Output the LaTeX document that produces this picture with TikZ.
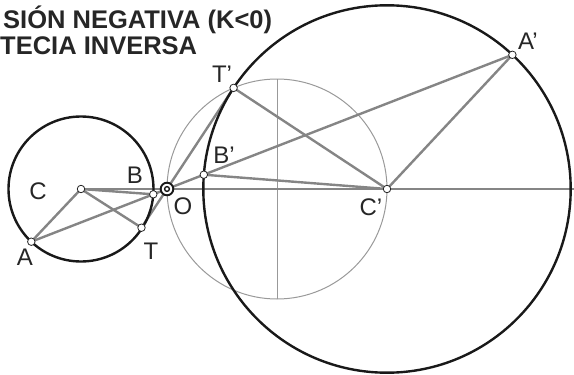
\documentclass[tikz,border=0pt]{standalone}
\usepackage{fontspec}
\setmainfont{Liberation Sans}
\usepackage{tikz}
\usetikzlibrary{calc}

\begin{document}
\begin{tikzpicture}[
    x=1pt, y=-1pt,
    circ/.style={draw=black!90, line width=2.4pt},
    aux/.style={draw=black!40, line width=1pt},
    cons/.style={draw=black!48, line width=2.4pt},
    pt/.style={circle, draw=black!85, fill=white, line width=0.8pt, inner sep=0pt, minimum size=7.5pt},
    lbl/.style={font=\fontsize{24}{26}\selectfont, text=black!85, inner sep=0pt},
    ttl/.style={font=\fontsize{25.5}{27}\selectfont\bfseries, text=black!85, inner sep=0pt, anchor=base west}
]
    \useasboundingbox (0,0) rectangle (574,375);

    % points
    \coordinate (C) at (81,189);
    \coordinate (O) at (167,189);
    \coordinate (Cp) at (387,189);
    \coordinate (M) at (277,189);
    \coordinate (Mt) at (277,79);
    \coordinate (Mb) at (277,299);
    \coordinate (E) at (574,189);
    \coordinate (A) at (31.3,241.7);
    \coordinate (B) at (153.3,194.3);
    \coordinate (T) at (141.5,227.7);
    \coordinate (Ap) at (512.4,54.8);
    \coordinate (Bp) at (203.8,174.7);
    \coordinate (Tp) at (233.6,87.9);

    % title
    \node[ttl] (t1) at (3,28) {SIÓN NEGATIVA (K<0)};
    \node[ttl] (t2) at (0,54) {TECIA INVERSA};

    % auxiliary circle on O-C'
    \draw[aux] (M) circle[radius=110];
    \draw[aux] (Mt) -- (Mb);
    \draw[cons, line width=2pt] (C) -- (E);

    % rays through O
    \draw[cons] (A) -- (Ap);
    \draw[cons] (T) -- (Tp);
    \draw[cons] (C) -- (A);
    \draw[cons] (C) -- (B);
    \draw[cons] (C) -- (T);
    \draw[cons] (Cp) -- (Ap);
    \draw[cons] (Cp) -- (Bp);
    \draw[cons] (Cp) -- (Tp);

    % circles
    \draw[circ] (C) circle[radius=72.5];
    \draw[circ] (Cp) circle[radius=183.7];

    % centre of inversion
    \draw[black!90, line width=1.9pt, fill=white] (O) circle[radius=6.3];
    \draw[black!90, line width=1.4pt, fill=white] (O) circle[radius=2.4];

    \foreach \p in {C,A,B,T,Cp,Ap,Bp,Tp}
        \node[pt] (p\p) at (\p) {};

    % labels
    \node[lbl] (lC) at (38,191) {C};
    \node[lbl] (lB) at (135,175) {B};
    \node[lbl] (lO) at (183,206) {O};
    \node[lbl] (lA) at (25,257) {A};
    \node[lbl] (lT) at (151,251) {T};
    \node[lbl] (lTp) at (222,74) {T'};
    \node[lbl] (lBp) at (224,155) {B'};
    \node[lbl] (lCp) at (371,207) {C'};
    \node[lbl] (lAp) at (528,41) {A'};
\end{tikzpicture}
\end{document}
